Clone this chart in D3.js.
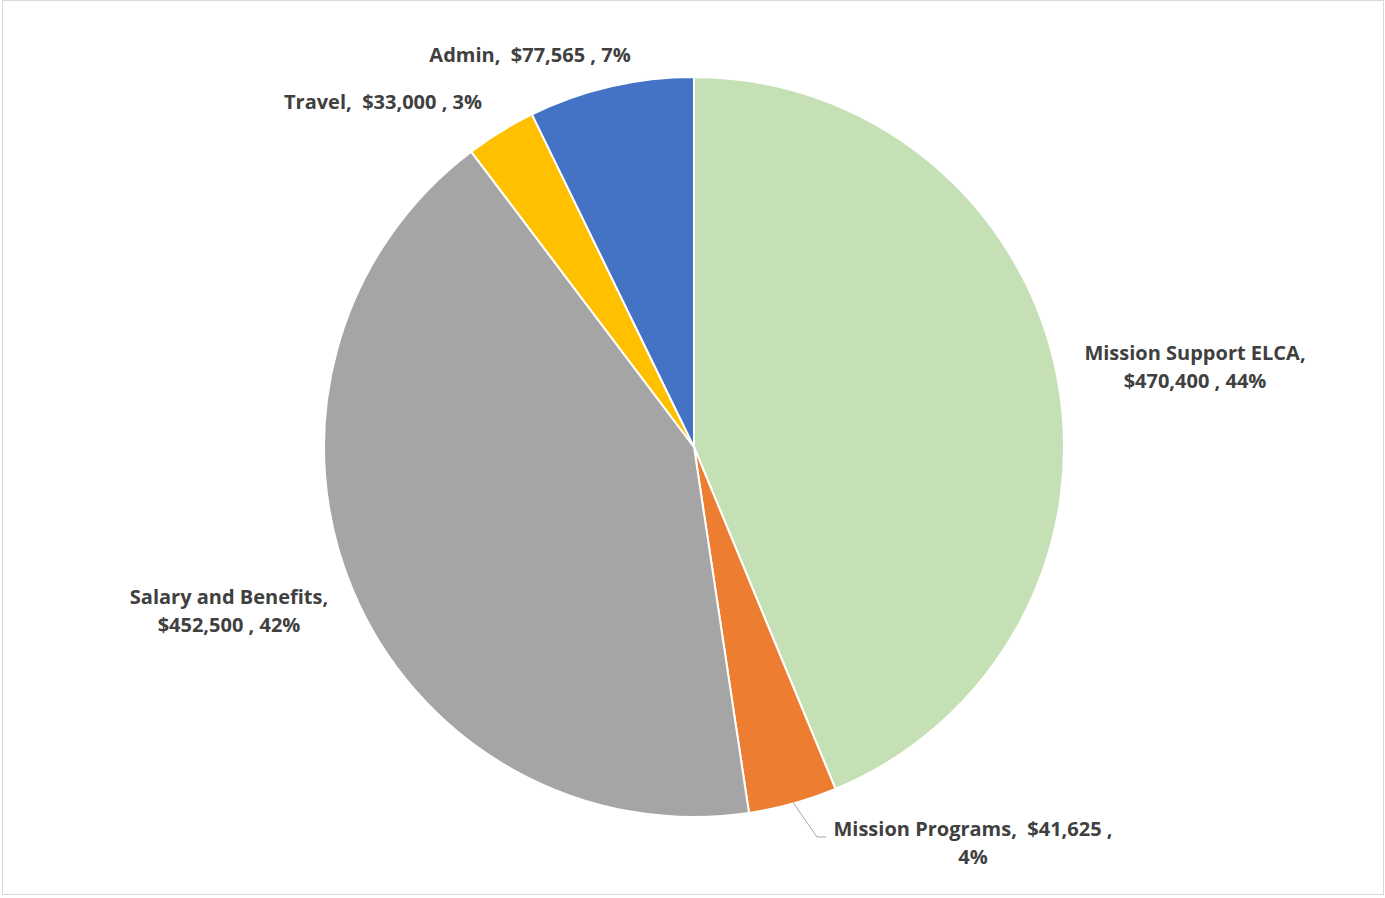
<!DOCTYPE html>
<html><head><meta charset="utf-8">
<script src="https://cdn.jsdelivr.net/npm/d3@7"></script>
<style>body{margin:0;background:#fff;} text{font-family:"Open Sans",sans-serif;font-weight:bold;fill:#404040;white-space:pre;}</style>
</head><body>
<svg id="c" width="1385" height="898"></svg>
<script>
const categories = ["Mission Support ELCA", "Mission Programs", "Salary and Benefits", "Travel", "Admin"];
const values = [470400, 41625, 452500, 33000, 77565];
const percents = ["44%", "4%", "42%", "3%", "7%"];
const valueLabels = ["$470,400", "$41,625", "$452,500", "$33,000", "$77,565"];
const colors = ["#C5E0B4", "#ED7D31", "#A5A5A5", "#FFC000", "#4472C4"];

// label layout: lines and positions
const labelLines = [
  ["Mission Support ELCA,", "$470,400 , 44%"],
  ["Mission Programs,  $41,625 ,", "4%"],
  ["Salary and Benefits,", "$452,500 , 42%"],
  ["Travel,  $33,000 , 3%"],
  ["Admin,  $77,565 , 7%"]
];
const labelPos = [[1195, 360], [973, 836], [229, 604], [383, 109], [530, 62]];

const svg = d3.select("#c");
svg.append("rect").attr("x", 2.5).attr("y", 0.5).attr("width", 1381).attr("height", 894)
  .attr("fill", "#fff").attr("stroke", "#d9d9d9").attr("stroke-width", 1);

const cx = 694, cy = 447, R = 370;
const pie = d3.pie().sort(null).value(d => d)(values);
const arc = d3.arc().innerRadius(0).outerRadius(R);
const g = svg.append("g").attr("transform", `translate(${cx},${cy})`);
g.selectAll("path").data(pie).join("path")
  .attr("d", arc).attr("fill", (d, i) => colors[i])
  .attr("stroke", "#fff").attr("stroke-width", 2).attr("stroke-linejoin", "round");

// leader line for Mission Programs
const mp = pie[1];
const mid = (mp.startAngle + mp.endAngle) / 2;
const p0 = [cx + Math.sin(mid) * (R - 2), cy - Math.cos(mid) * (R - 2)];
svg.append("polyline")
  .attr("points", `${p0[0]},${p0[1]} 817,837 826,837`)
  .attr("fill", "none").attr("stroke", "#A6A6A6").attr("stroke-width", 1);

labelLines.forEach((lines, i) => {
  const t = svg.append("text").attr("text-anchor", "middle").attr("font-size", 20).attr("xml:space", "preserve");
  lines.forEach((ln, j) => {
    t.append("tspan").attr("x", labelPos[i][0]).attr("y", labelPos[i][1] + j * 28).text(ln);
  });
});
</script>
</body></html>
